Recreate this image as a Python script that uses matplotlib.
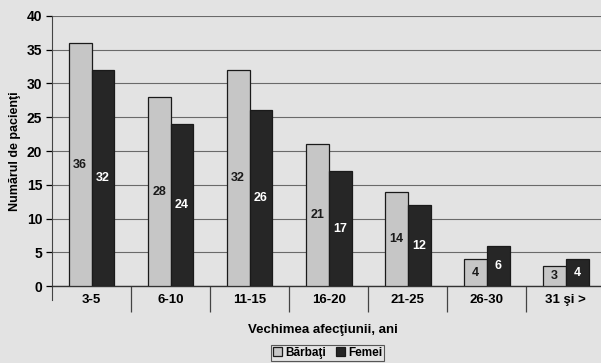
import matplotlib.pyplot as plt
import numpy as np

plt.rcParams['font.family'] = ['Liberation Sans', 'DejaVu Sans']

# date
categorii = ['3-5', '6-10', '11-15', '16-20', '21-25', '26-30', '31 şi >']
barbati = [36, 28, 32, 21, 14, 4, 3]
femei = [32, 24, 26, 17, 12, 6, 4]

fundal = '#e3e3e3'
gri_deschis = '#c6c6c6'
gri_inchis = '#262626'

fig = plt.figure(figsize=(6.01, 3.63), dpi=100, facecolor=fundal)
ax = fig.add_axes([0.0865, 0.212, 0.9205, 0.744])
ax.set_facecolor(fundal)

x = np.arange(len(categorii))
w = 0.29
b1 = ax.bar(x - w / 2, barbati, w, color=gri_deschis, edgecolor='#1a1a1a', linewidth=0.9, zorder=3, label='Bărbaţi')
b2 = ax.bar(x + w / 2, femei, w, color=gri_inchis, edgecolor='#1a1a1a', linewidth=0.9, zorder=3, label='Femei')

# etichete in mijlocul barelor
for xi, v in zip(x, barbati):
    ax.text(xi - w / 2, v / 2, str(v), ha='center', va='center', fontsize=9,
            fontweight='bold', color='#1a1a1a', zorder=4)
for xi, v in zip(x, femei):
    ax.text(xi + w / 2, v / 2, str(v), ha='center', va='center', fontsize=9,
            fontweight='bold', color='white', zorder=4)

ax.set_xlim(-0.5, len(categorii) - 0.5)
ax.set_ylim(0, 40)
ax.set_yticks(np.arange(0, 41, 5))
ax.yaxis.grid(True, color='#6a6a6a', linewidth=0.8, zorder=0)
ax.set_axisbelow(True)

ax.set_xticks(x)
ax.set_xticklabels(categorii, fontsize=9.5, fontweight='bold')
ax.set_xticks(np.arange(len(categorii)) + 0.5, minor=True)
ax.tick_params(axis='x', which='major', length=0, pad=6)
ax.tick_params(axis='x', which='minor', length=19, width=0.9, color='#444444', direction='out')
ax.tick_params(axis='y', length=4, width=0.9, labelsize=10, pad=3)
for t in ax.get_yticklabels():
    t.set_fontweight('bold')

for s in ['top', 'right']:
    ax.spines[s].set_visible(False)
ax.spines['left'].set_color('#444444')
ax.spines['bottom'].set_color('#333333')
ax.spines['bottom'].set_linewidth(1.0)
ax.spines['left'].set_bounds(-2.0, 40)

ax.set_ylabel('Numărul de pacienţi', fontsize=9, fontweight='bold', labelpad=4)
ax.set_xlabel('Vechimea afecţiunii, ani', fontsize=9.5, fontweight='bold')
ax.xaxis.set_label_coords(0.49, -0.14)

leg = fig.legend(handles=[b1, b2], loc='center', bbox_to_anchor=(0.545, 0.028), ncol=2,
                 fontsize=8.5, frameon=True, fancybox=False, edgecolor='#333333', facecolor=fundal,
                 handlelength=0.8, handleheight=0.8, handletextpad=0.25, columnspacing=0.8,
                 borderpad=0.15, borderaxespad=0)
leg.get_frame().set_linewidth(0.8)
for t in leg.get_texts():
    t.set_fontweight('bold')

plt.savefig('out.png', dpi=100, facecolor=fundal)
